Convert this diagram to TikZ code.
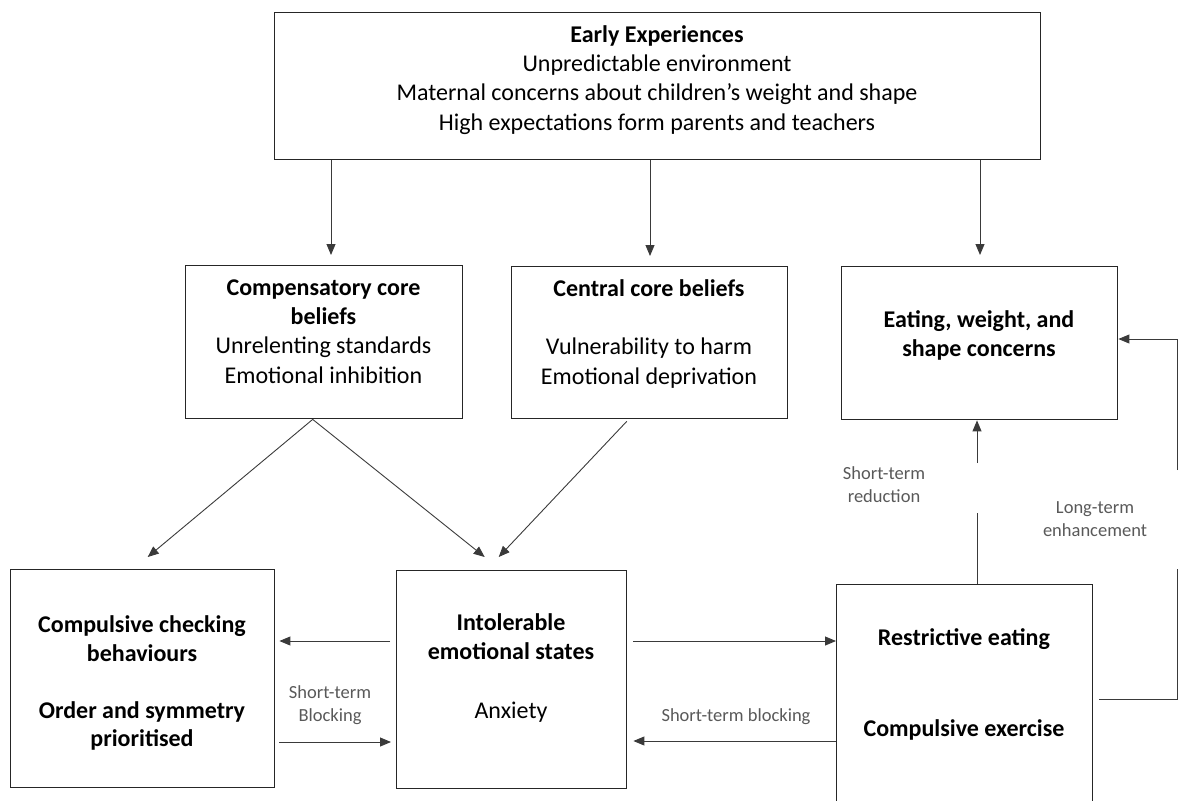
\documentclass[tikz,border=0pt]{standalone}
\usepackage{fontspec}
\setmainfont{Carlito}
\usetikzlibrary{arrows.meta,calc}
\definecolor{boxline}{HTML}{262626}
\definecolor{linkline}{HTML}{3A3A3A}
\definecolor{labeltext}{HTML}{595959}

\begin{document}
\begin{tikzpicture}[x=1pt,y=-1pt,
  frame/.style={draw=boxline,line width=1.4pt,anchor=north west,inner sep=0pt},
  bigtext/.style={anchor=north,align=center,inner sep=0pt,font=\fontsize{24}{29.3}\selectfont},
  smalltext/.style={anchor=north,align=center,inner sep=0pt,text=labeltext,font=\fontsize{18.5}{23}\selectfont},
  plain/.style={draw=linkline,line width=0.9pt},
  link/.style={plain,-{Triangle[length=11pt,width=9pt]}}]
\useasboundingbox (0,0) rectangle (1182,800);

% boxes
\node[frame,minimum width=766pt,minimum height=147pt] (early) at (274,12) {};
\node[frame,minimum width=277pt,minimum height=153pt] (comp) at (185,265) {};
\node[frame,minimum width=276pt,minimum height=152pt] (central) at (511,266) {};
\node[frame,minimum width=276pt,minimum height=153pt] (eating) at (841,266) {};
\node[frame,minimum width=264pt,minimum height=218pt] (check) at (10,569) {};
\node[frame,minimum width=230pt,minimum height=218pt] (intol) at (396,570) {};
\node[frame,minimum width=256pt,minimum height=240pt] (restr) at (836,584) {};

% box texts
\node[bigtext] (earlyT) at (657,21.5) {\strut\textbf{Early Experiences}\\Unpredictable environment\\Maternal concerns about children’s weight and shape\\High expectations form parents and teachers};
\node[bigtext] (compT) at (323.5,274.5) {\strut\textbf{Compensatory core}\\\textbf{beliefs}\\Unrelenting standards\\Emotional inhibition};
\node[bigtext] (centralT) at (649,275.5) {\strut\textbf{Central core beliefs}\\[29.3pt]Vulnerability to harm\\Emotional deprivation};
\node[bigtext] (eatingT) at (979,306.5) {\strut\textbf{Eating, weight, and}\\\textbf{shape concerns}};
\node[bigtext,font=\fontsize{24}{28.5}\selectfont] (checkT) at (142,612.5) {\strut\textbf{Compulsive checking}\\\textbf{behaviours}\\[28.5pt]\textbf{Order and symmetry}\\\textbf{prioritised}};
\node[bigtext] (intolT) at (511,609.5) {\strut\textbf{Intolerable}\\\textbf{emotional states}\\[29.3pt]Anxiety};
\node[bigtext] (restrA) at (964,624.5) {\strut\textbf{Restrictive eating}};
\node[bigtext] (restrB) at (964,716) {\strut\textbf{Compulsive exercise}};

% connector labels
\node[smalltext] (lblA) at (330,682.4) {\strut Short-term\\Blocking};
\node[smalltext] (lblB) at (736,705.4) {\strut Short-term blocking};
\node[smalltext] (lblC) at (884,463.4) {\strut Short-term\\reduction};
\node[smalltext] (lblD) at (1095,497.4) {\strut Long-term\\enhancement};

% helper coordinates
\coordinate (xa) at (331,0);
\coordinate (xb) at (650,0);
\coordinate (xc) at (980,0);
\coordinate (xm) at (977,0);
\coordinate (yA) at (0,641);
\coordinate (yB) at (0,742);
\coordinate (yC) at (0,741);
\coordinate (yR) at (0,699);
\coordinate (yE) at (0,339);
\coordinate (gapLo) at (977,513);
\coordinate (gapHi) at (977,463);
\coordinate (loopLo) at (1177,569);
\coordinate (loopHi) at (1177,470);

% early experiences to the three belief boxes
\draw[link,shorten >=10pt] (early.south -| xa) -- (comp.north -| xa);
\draw[link,shorten >=10pt] (early.south -| xb) -- (central.north -| xb);
\draw[link,shorten >=11pt] (early.south -| xc) -- (eating.north -| xc);

% beliefs to the lower boxes
\draw[link] ($(comp.south)+(-11.5,0)$) -- ($(check.north)+(5,-12)$);
\draw[link] ($(comp.south)+(-11.5,0)$) -- ($(intol.north)+(-27,-13)$);
\draw[link] ($(central.south)+(-23,2)$) -- ($(intol.north)+(-13,-13)$);

% horizontal links
\draw[link,shorten <=6pt,shorten >=4pt] (intol.west |- yA) -- (check.east |- yA);
\draw[link,shorten <=4pt,shorten >=5pt] (check.east |- yB) -- (intol.west |- yB);
\draw[link,shorten <=6pt] (intol.east |- yA) -- (restr.west |- yA);
\draw[link,shorten >=6pt] (restr.west |- yC) -- (intol.east |- yC);

% short-term reduction
\draw[plain] (restr.north -| xm) -- (gapLo);
\draw[link] (gapHi) -- (eating.south -| xm);

% long-term enhancement loop
\draw[plain,shorten <=6pt] (restr.east |- yR) -- (loopLo |- yR) -- (loopLo);
\draw[link] (loopHi) -- (loopHi |- yE) -- (eating.east |- yE);
\end{tikzpicture}
\end{document}
